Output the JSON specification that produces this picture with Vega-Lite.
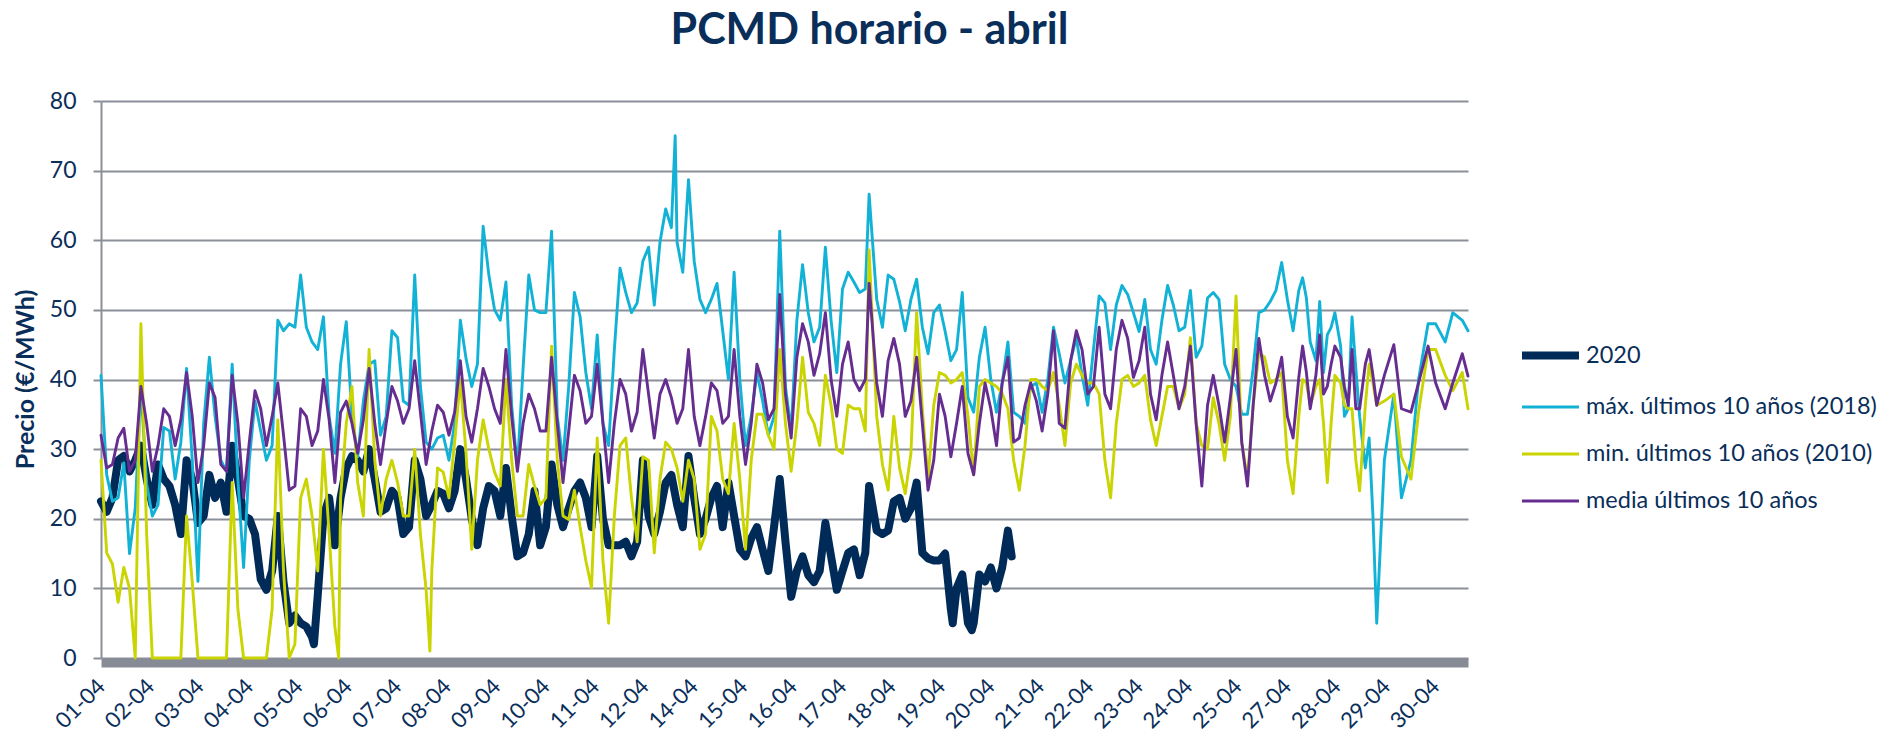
{
  "$schema": "https://vega.github.io/schema/vega-lite/v6.json",
  "width": 1367,
  "height": 557,
  "autosize": "none",
  "padding": {"left": 101, "top": 101, "right": 424, "bottom": 78},
  "background": "white",
  "title": {"text": "PCMD horario - abril", "font": "Lato", "fontSize": 43, "fontWeight": "bold", "color": "#0a2e5a", "anchor": "middle", "frame": "group", "dx": 85, "offset": 37},
  "config": {"view": {"stroke": null}},
  "data": {"values": [
    {"h":0,"a":22.5,"b":40.6,"c":28.4,"d":32},
    {"h":3,"a":21,"b":26.3,"c":15.1,"d":27.3},
    {"h":6,"a":23,"b":22.5,"c":13.5,"d":27.8},
    {"h":9,"a":28.4,"b":23,"c":8,"d":31.6},
    {"h":12,"a":29,"b":28,"c":13,"d":33},
    {"h":15,"a":26.8,"b":15,"c":10,"d":26.8},
    {"h":18,"a":28.4,"b":21.5,"c":0,"d":28.4},
    {"h":21,"a":30.5,"b":39,"c":48,"d":39},
    {"h":24,"a":25.7,"b":25,"c":17.8,"d":33.7},
    {"h":27,"a":22,"b":20.4,"c":0,"d":26.8},
    {"h":30,"a":27.8,"b":22,"c":0,"d":30.5},
    {"h":33,"a":25.7,"b":33.1,"c":0,"d":35.8},
    {"h":36,"a":24.7,"b":32.6,"c":0,"d":34.7},
    {"h":39,"a":22,"b":25.7,"c":0,"d":30.5},
    {"h":42,"a":17.8,"b":31,"c":0,"d":34.2},
    {"h":45,"a":28.4,"b":41.6,"c":20.4,"d":41},
    {"h":48,"a":25.7,"b":28.4,"c":10.9,"d":34.7},
    {"h":51,"a":19.4,"b":11,"c":0,"d":25.2},
    {"h":54,"a":20.4,"b":33.7,"c":0,"d":30.5},
    {"h":57,"a":26.3,"b":43.2,"c":0,"d":39.5},
    {"h":60,"a":23,"b":34.7,"c":0,"d":37.4},
    {"h":63,"a":25.2,"b":28.4,"c":0,"d":27.8},
    {"h":66,"a":21,"b":26.8,"c":0,"d":26.8},
    {"h":69,"a":30.5,"b":42.2,"c":25.2,"d":40.6},
    {"h":72,"a":25.7,"b":25.7,"c":7,"d":33.7},
    {"h":75,"a":20.4,"b":13,"c":0,"d":23},
    {"h":78,"a":20,"b":28.4,"c":0,"d":31},
    {"h":81,"a":17.8,"b":36.9,"c":0,"d":38.4},
    {"h":84,"a":11.3,"b":32.6,"c":0,"d":35.8},
    {"h":87,"a":9.8,"b":28.4,"c":0,"d":30.5},
    {"h":90,"a":12.5,"b":30.5,"c":7,"d":34.7},
    {"h":93,"a":20.4,"b":48.5,"c":34.2,"d":39.5},
    {"h":96,"a":10.9,"b":47,"c":12.5,"d":32},
    {"h":99,"a":5,"b":48,"c":0,"d":24.1},
    {"h":102,"a":6.1,"b":47.5,"c":2,"d":24.7},
    {"h":105,"a":5,"b":55,"c":23,"d":35.8},
    {"h":108,"a":4.5,"b":47.5,"c":25.7,"d":34.7},
    {"h":111,"a":3,"b":45.4,"c":20.4,"d":30.5},
    {"h":112,"a":2},
    {"h":114,"a":9,"b":44.3,"c":12.5,"d":32.6},
    {"h":117,"a":20.4,"b":49,"c":30,"d":40},
    {"h":120,"a":23,"b":34.7,"c":17.8,"d":34.2},
    {"h":123,"a":16.2,"b":29.4,"c":4.5,"d":25.2},
    {"h":125,"c":0},
    {"h":126,"a":23,"b":42.2,"c":23,"d":35.3},
    {"h":129,"a":27.3,"b":48.3,"c":33.7,"d":36.9},
    {"h":132,"a":29,"b":34.7,"c":39,"d":33.7},
    {"h":135,"a":28.4,"b":28.9,"c":25.2,"d":29.4},
    {"h":138,"a":26.8,"b":36.9,"c":20.4,"d":34.2},
    {"h":141,"a":30,"b":42.2,"c":44.3,"d":41.6},
    {"h":144,"a":25.7,"b":42.7,"c":28.4,"d":33.7},
    {"h":147,"a":21,"b":32,"c":20.4,"d":27.8},
    {"h":150,"a":21.5,"b":34.7,"c":25.7,"d":33.7},
    {"h":153,"a":24,"b":47,"c":28.4,"d":39},
    {"h":156,"a":23,"b":46,"c":25.2,"d":36.9},
    {"h":159,"a":17.8,"b":36.9,"c":20.4,"d":33.7},
    {"h":162,"a":18.8,"b":36.3,"c":20.4,"d":35.8},
    {"h":165,"a":28.4,"b":55,"c":30,"d":42.7},
    {"h":168,"a":25.7,"b":39,"c":17.8,"d":35.3},
    {"h":171,"a":20.4,"b":31,"c":9.8,"d":27.8},
    {"h":173,"c":1},
    {"h":174,"a":22,"b":30,"c":12.5,"d":32.6},
    {"h":177,"a":24,"b":31.6,"c":27.3,"d":36.3},
    {"h":180,"a":23.6,"b":32,"c":26.7,"d":35.3},
    {"h":183,"a":21.5,"b":28.4,"c":23,"d":32},
    {"h":186,"a":24,"b":33.7,"c":31,"d":35.3},
    {"h":189,"a":30,"b":48.5,"c":40,"d":42.7},
    {"h":192,"a":25.7,"b":43,"c":29.4,"d":34.7},
    {"h":195,"a":20,"b":39,"c":15.6,"d":31},
    {"h":198,"a":16.2,"b":42.2,"c":28.4,"d":35.8},
    {"h":201,"a":21.5,"b":62,"c":34.2,"d":41.6},
    {"h":204,"a":24.7,"b":55,"c":30,"d":39},
    {"h":207,"a":24,"b":50,"c":26.7,"d":35.8},
    {"h":210,"a":20.4,"b":48.5,"c":24.7,"d":33.7},
    {"h":213,"a":27.3,"b":54,"c":40,"d":44.3},
    {"h":216,"a":20.4,"b":36.3,"c":28.4,"d":34.7},
    {"h":219,"a":14.6,"b":27.3,"c":20.4,"d":26.8},
    {"h":222,"a":15.1,"b":41.6,"c":20.4,"d":33.7},
    {"h":225,"a":17.8,"b":55,"c":27.8,"d":37.9},
    {"h":228,"a":24,"b":50,"c":24.7,"d":35.8},
    {"h":231,"a":16.2,"b":49.6,"c":22,"d":32.6},
    {"h":234,"a":18.8,"b":49.6,"c":23,"d":32.6},
    {"h":237,"a":27.8,"b":61.3,"c":44.8,"d":43.2},
    {"h":240,"a":22,"b":34.7,"c":28.4,"d":33.7},
    {"h":243,"a":18.8,"b":28.4,"c":20.4,"d":25.2},
    {"h":246,"a":21.5,"b":39,"c":19.9,"d":32.6},
    {"h":249,"a":24,"b":52.5,"c":24.1,"d":40.6},
    {"h":252,"a":25.2,"b":49,"c":18.8,"d":38.4},
    {"h":255,"a":23,"b":41,"c":14,"d":33.7},
    {"h":258,"a":18.8,"b":35.8,"c":10.1,"d":34.7},
    {"h":261,"a":29,"b":46.4,"c":31.6,"d":42.2},
    {"h":264,"a":20,"b":33.7,"c":14,"d":33.7},
    {"h":267,"a":16.2,"b":30.5,"c":5,"d":25.2},
    {"h":270,"a":16.2,"b":44.3,"c":20.4,"d":33.7},
    {"h":273,"a":16.2,"b":56,"c":30.5,"d":40},
    {"h":276,"a":16.7,"b":52.5,"c":31.6,"d":37.9},
    {"h":279,"a":14.6,"b":49.6,"c":23,"d":32.6},
    {"h":282,"a":16.7,"b":51,"c":16.7,"d":35.3},
    {"h":285,"a":28.4,"b":57,"c":28.9,"d":44.3},
    {"h":288,"a":20.4,"b":59,"c":28.4,"d":37.9},
    {"h":291,"a":17.8,"b":50.7,"c":15.1,"d":31.6},
    {"h":294,"a":21,"b":59.7,"c":25.7,"d":37.9},
    {"h":297,"a":25.2,"b":64.5,"c":31,"d":40},
    {"h":300,"a":26.3,"b":61.8,"c":30,"d":37.4},
    {"h":302,"b":75},
    {"h":303,"a":22,"b":59.7,"c":27.3,"d":33.7},
    {"h":306,"a":18.8,"b":55.4,"c":22.5,"d":35.8},
    {"h":309,"a":29,"b":68.7,"c":28.4,"d":44.3},
    {"h":312,"a":23,"b":57,"c":25.7,"d":34.7},
    {"h":315,"a":17.8,"b":51.5,"c":15.6,"d":30.5},
    {"h":318,"a":20,"b":49.6,"c":17.8,"d":34.7},
    {"h":321,"a":23,"b":51.5,"c":34.7,"d":39.5},
    {"h":324,"a":24.7,"b":53.8,"c":32.6,"d":38.4},
    {"h":327,"a":18.8,"b":47,"c":25.7,"d":33.7},
    {"h":330,"a":25.2,"b":40,"c":23.6,"d":34.7},
    {"h":333,"a":20.4,"b":55.4,"c":33.7,"d":44.3},
    {"h":336,"a":15.6,"b":40,"c":25.7,"d":34.7},
    {"h":339,"a":14.6,"b":30.5,"c":15.6,"d":27.8},
    {"h":342,"a":17.2,"b":34.7,"c":28.4,"d":33.7},
    {"h":345,"a":18.8,"b":41,"c":35,"d":42.2},
    {"h":348,"a":15.6,"b":36.9,"c":35,"d":39.5},
    {"h":351,"a":12.5,"b":32,"c":32,"d":34.2},
    {"h":354,"a":18.8,"b":34.7,"c":30,"d":35.8},
    {"h":357,"a":25.7,"b":61.3,"c":44.3,"d":52.2},
    {"h":360,"a":16.7,"b":39,"c":33.7,"d":37.9},
    {"h":363,"a":8.8,"b":32.6,"c":26.8,"d":31.6},
    {"h":366,"a":12.5,"b":48.5,"c":33.7,"d":43.2},
    {"h":369,"a":14.6,"b":56.5,"c":43.2,"d":48},
    {"h":372,"a":11.9,"b":49.6,"c":35.3,"d":45.4},
    {"h":375,"a":10.9,"b":45.4,"c":33.7,"d":40.6},
    {"h":378,"a":12.5,"b":47.5,"c":30.5,"d":43.7},
    {"h":381,"a":19.4,"b":59,"c":40.6,"d":49.6},
    {"h":384,"a":14.6,"b":48.5,"c":36.3,"d":40},
    {"h":387,"a":9.8,"b":41,"c":30,"d":34.7},
    {"h":390,"a":12.5,"b":53,"c":29.4,"d":42.2},
    {"h":393,"a":15.1,"b":55.4,"c":36.3,"d":45.4},
    {"h":396,"a":15.6,"b":54,"c":35.8,"d":40},
    {"h":399,"a":11.9,"b":52.5,"c":35.8,"d":38.4},
    {"h":402,"a":15.1,"b":53,"c":32.6,"d":40},
    {"h":404,"a":24.7,"b":66.6,"c":58.6,"d":53.8},
    {"h":408,"a":18.3,"b":51.5,"c":34.7,"d":39.5},
    {"h":411,"a":17.8,"b":47.5,"c":27.8,"d":34.7},
    {"h":414,"a":18.3,"b":55,"c":24.1,"d":42.7},
    {"h":417,"a":22.5,"b":54.4,"c":34.7,"d":45.9},
    {"h":420,"a":23,"b":51.2,"c":27.3,"d":42.2},
    {"h":423,"a":20,"b":47,"c":23.6,"d":34.7},
    {"h":426,"a":21.5,"b":51.5,"c":29.4,"d":36.9},
    {"h":429,"a":25.2,"b":54.4,"c":49.6,"d":43.2},
    {"h":432,"a":15.1,"b":47.5,"c":35.8,"d":33.7},
    {"h":435,"a":14.3,"b":43.7,"c":25.7,"d":24.1},
    {"h":438,"a":14,"b":49.6,"c":36.3,"d":28.4},
    {"h":441,"a":14,"b":50.7,"c":41,"d":37.9},
    {"h":444,"a":15,"b":46.9,"c":40.6,"d":34.7},
    {"h":447,"a":7,"b":42.7,"c":39.5,"d":28.9},
    {"h":448,"a":5},
    {"h":450,"a":10,"b":44.3,"c":40,"d":33.7},
    {"h":453,"a":12,"b":52.5,"c":41,"d":39},
    {"h":456,"a":5,"b":37.4,"c":34.7,"d":29.4},
    {"h":458,"a":4},
    {"h":459,"a":5,"b":35.3,"c":26.3,"d":26.3},
    {"h":462,"a":12,"b":43.2,"c":39,"d":33.7},
    {"h":465,"a":11,"b":47.5,"c":40,"d":39.5},
    {"h":468,"a":13,"b":40,"c":39.5,"d":35.8},
    {"h":471,"a":10,"b":35.3,"c":39,"d":30.5},
    {"h":474,"a":13,"b":39.5,"c":38,"d":39.5},
    {"h":477,"a":18.3,"b":45.4,"c":35.8,"d":43.2},
    {"h":479,"a":14.6},
    {"h":480,"b":35.3,"c":28.4,"d":31},
    {"h":483,"b":34.7,"c":24.1,"d":31.6},
    {"h":486,"b":33.7,"c":30.5,"d":36.3},
    {"h":489,"b":39,"c":40,"d":39.5},
    {"h":492,"b":39.5,"c":40,"d":36.9},
    {"h":495,"b":35.3,"c":39,"d":32.6},
    {"h":498,"b":40,"c":38.4,"d":38},
    {"h":501,"b":47.5,"c":41,"d":47},
    {"h":504,"b":43.7,"c":36.3,"d":33.7},
    {"h":507,"b":39.5,"c":30.5,"d":33},
    {"h":510,"b":42.7,"c":39.5,"d":42.7},
    {"h":513,"b":46,"c":42.2,"d":47},
    {"h":516,"b":40.6,"c":40.6,"d":44.3},
    {"h":519,"b":36.3,"c":39.5,"d":37.9},
    {"h":522,"b":44.3,"c":39.5,"d":39},
    {"h":525,"b":52,"c":37.9,"d":47.5},
    {"h":528,"b":51,"c":28.4,"d":37.9},
    {"h":531,"b":44.3,"c":23,"d":35.8},
    {"h":534,"b":50.7,"c":33.7,"d":44.3},
    {"h":537,"b":53.5,"c":40,"d":48.5},
    {"h":540,"b":52.2,"c":40.6,"d":45.9},
    {"h":543,"b":49.6,"c":39,"d":40.3},
    {"h":546,"b":46.9,"c":39.5,"d":42.7},
    {"h":549,"b":51.5,"c":40.6,"d":47.5},
    {"h":552,"b":44.3,"c":34.2,"d":37.9},
    {"h":555,"b":42.2,"c":30.5,"d":34.2},
    {"h":558,"b":48.5,"c":34.7,"d":40.6},
    {"h":561,"b":53.5,"c":39,"d":45.4},
    {"h":564,"b":50.7,"c":39,"d":40.6},
    {"h":567,"b":47,"c":35.8,"d":35.8},
    {"h":570,"b":47.5,"c":37.9,"d":39},
    {"h":573,"b":52.8,"c":46,"d":44.8},
    {"h":576,"b":43.2,"c":33.7,"d":33.7},
    {"h":579,"b":44.8,"c":30.5,"d":24.7},
    {"h":582,"b":51.7,"c":30,"d":36.3},
    {"h":585,"b":52.5,"c":37.4,"d":40.6},
    {"h":588,"b":51.5,"c":33.7,"d":36.3},
    {"h":591,"b":42.2,"c":28.4,"d":31},
    {"h":594,"b":40,"c":34.7,"d":37.4},
    {"h":597,"b":39,"c":52,"d":44.3},
    {"h":600,"b":35,"c":31,"d":31},
    {"h":603,"b":35,"c":25.7,"d":24.7},
    {"h":606,"b":41.6,"c":36.3,"d":36.3},
    {"h":609,"b":49.6,"c":43.8,"d":45.9},
    {"h":612,"b":50,"c":43.2,"d":40.6},
    {"h":615,"b":51.2,"c":39.5,"d":36.9},
    {"h":618,"b":52.8,"c":40,"d":39.5},
    {"h":621,"b":56.8,"c":41,"d":43.2},
    {"h":624,"b":51.5,"c":28.4,"d":34.7},
    {"h":627,"b":47,"c":23.6,"d":31.6},
    {"h":630,"b":52.8,"c":34.7,"d":40.3},
    {"h":632,"b":54.6,"c":40,"d":44.8},
    {"h":634,"b":51.7,"c":39.5,"d":41},
    {"h":636,"b":45.4,"c":36.3,"d":35.8},
    {"h":639,"b":42.7,"c":39,"d":40.6},
    {"h":641,"b":51.2,"c":40,"d":46.4},
    {"h":643,"b":41,"c":33.7,"d":37.9},
    {"h":645,"b":46.4,"c":25.2,"d":39},
    {"h":647,"b":47.5,"c":33.7,"d":42.2},
    {"h":649,"b":49.6,"c":40.6,"d":44.8},
    {"h":652,"b":44.8,"c":39.5,"d":43.2},
    {"h":654,"b":34.7,"c":36.3,"d":39},
    {"h":656,"b":35.8,"c":35.8,"d":36.3},
    {"h":658,"b":49,"c":35.8,"d":44.3},
    {"h":660,"b":41.6,"c":28.4,"d":35.8},
    {"h":662,"b":34.7,"c":24,"d":35.8},
    {"h":665,"b":27.3,"c":36.3,"d":42.2},
    {"h":667,"b":31.6,"c":42.2,"d":44.3},
    {"h":669,"b":20.4,"c":39.5,"d":40.6},
    {"h":671,"b":5,"c":36.3,"d":36.3},
    {"h":675,"b":28.4,"c":36.9,"d":40.6},
    {"h":680,"b":37.9,"c":37.9,"d":45},
    {"h":684,"b":23,"c":28.9,"d":35.8},
    {"h":689,"b":28.4,"c":25.7,"d":35.3},
    {"h":693,"b":40,"c":35.3,"d":39.5},
    {"h":698,"b":48,"c":44.3,"d":44.8},
    {"h":702,"b":48,"c":44.3,"d":39.5},
    {"h":707,"b":45.4,"c":40.6,"d":35.8},
    {"h":711,"b":49.6,"c":38.4,"d":39.5},
    {"h":716,"b":48.5,"c":41,"d":43.7},
    {"h":719,"b":47,"c":35.8,"d":40.5}
  ]},
  "transform": [
    {"fold": ["a", "b", "c", "d"], "as": ["s", "v"]},
    {"filter": "isValid(datum.v)"}
  ],
  "mark": {"type": "line", "strokeJoin": "round", "strokeCap": "round"},
  "encoding": {
    "x": {
      "field": "h", "type": "quantitative",
      "scale": {"domain": [0, 719], "nice": false, "zero": false},
      "axis": {
        "values": [0,26,52,78,104,130,156,182,208,234,260,286,312,338,364,390,416,442,468,494,520,546,572,598,624,650,676,702],
        "labelExpr": "(floor(datum.value/24)+1 < 10 ? '0' : '') + (floor(datum.value/24)+1) + '-04'",
        "labelAngle": -45, "labelAlign": "right", "labelBaseline": "middle",
        "labelFont": "Lato", "labelFontSize": 22, "labelColor": "#0a2e5a",
        "labelPadding": 20, "labelOverlap": false, "labelBound": false, "labelFlush": false,
        "grid": false, "ticks": false,
        "domainColor": "#878b96", "domainWidth": 9, "offset": 4.5,
        "title": null
      }
    },
    "y": {
      "field": "v", "type": "quantitative",
      "scale": {"domain": [0, 80], "nice": false},
      "axis": {
        "values": [0,10,20,30,40,50,60,70,80],
        "labelFont": "Lato", "labelFontSize": 23, "labelColor": "#0a2e5a", "labelPadding": 17,
        "grid": true, "gridColor": "#8b8f99", "gridWidth": 2,
        "ticks": true, "tickSize": 8, "tickColor": "#8b8f99", "tickWidth": 2,
        "domainColor": "#8b8f99", "domainWidth": 2,
        "title": "Precio (€/MWh)", "titleFont": "Lato", "titleFontSize": 25, "titleFontWeight": "bold", "titleColor": "#0a2e5a",
        "titleX": -76, "titleY": 278, "titleAngle": -90, "titleAlign": "center", "titleBaseline": "middle"
      }
    },
    "color": {
      "field": "s", "type": "nominal",
      "scale": {"domain": ["a", "b", "c", "d"], "range": ["#002b58", "#12b2d6", "#c9d400", "#662d91"]},
      "legend": {
        "title": null, "orient": "none", "legendX": 1417, "legendY": 222, "padding": 0,
        "symbolType": "stroke", "symbolSize": 3249, "rowPadding": 5, "labelLimit": 0,
        "labelFont": "Lato", "labelFontSize": 23.5, "labelColor": "#0a2e5a", "labelOffset": 3,
        "labelExpr": "datum.label == 'a' ? '2020' : datum.label == 'b' ? 'máx. últimos 10 años (2018)' : datum.label == 'c' ? 'min. últimos 10 años (2010)' : 'media últimos 10 años'"
      }
    },
    "strokeWidth": {
      "field": "s", "type": "nominal",
      "scale": {"type": "ordinal", "domain": ["a", "b", "c", "d"], "range": [8, 2.9, 2.9, 2.9]},
      "legend": {
        "title": null, "orient": "none", "legendX": 1417, "legendY": 222, "padding": 0,
        "symbolType": "stroke", "symbolSize": 3249, "rowPadding": 5, "labelLimit": 0,
        "labelFont": "Lato", "labelFontSize": 23.5, "labelColor": "#0a2e5a", "labelOffset": 3,
        "labelExpr": "datum.label == 'a' ? '2020' : datum.label == 'b' ? 'máx. últimos 10 años (2018)' : datum.label == 'c' ? 'min. últimos 10 años (2010)' : 'media últimos 10 años'"
      }
    }
  }
}
